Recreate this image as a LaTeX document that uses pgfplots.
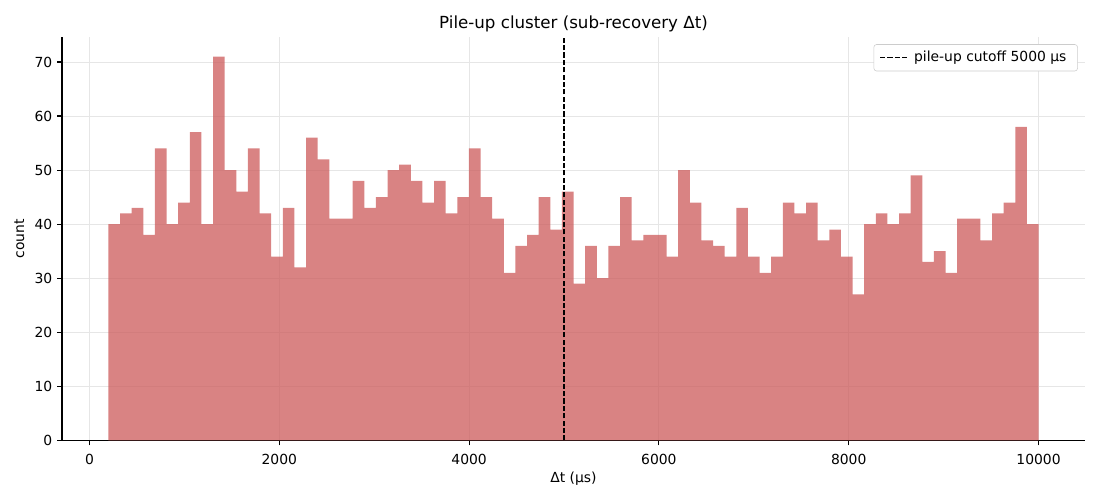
\documentclass[border=0pt]{standalone}
\usepackage{fontspec}
\setmainfont{DejaVu Sans}
\usepackage{pgfplots}
\usepackage{pgfplotstable}
\pgfplotsset{compat=1.18}
\definecolor{barcol}{RGB}{205,92,92}
\definecolor{gridcol}{RGB}{230,230,230}
\definecolor{legcol}{RGB}{204,204,204}
\pgfplotstableread{
x y
200 40
322.5 42
445 43
567.5 38
690 54
812.5 40
935 44
1057.5 57
1180 40
1302.5 71
1425 50
1547.5 46
1670 54
1792.5 42
1915 34
2037.5 43
2160 32
2282.5 56
2405 52
2527.5 41
2650 41
2772.5 48
2895 43
3017.5 45
3140 50
3262.5 51
3385 48
3507.5 44
3630 48
3752.5 42
3875 45
3997.5 54
4120 45
4242.5 41
4365 31
4487.5 36
4610 38
4732.5 45
4855 39
4977.5 46
5100 29
5222.5 36
5345 30
5467.5 36
5590 45
5712.5 37
5835 38
5957.5 38
6080 34
6202.5 50
6325 44
6447.5 37
6570 36
6692.5 34
6815 43
6937.5 34
7060 31
7182.5 34
7305 44
7427.5 42
7550 44
7672.5 37
7795 39
7917.5 34
8040 27
8162.5 40
8285 42
8407.5 40
8530 42
8652.5 49
8775 33
8897.5 35
9020 31
9142.5 41
9265 41
9387.5 37
9510 42
9632.5 44
9755 58
9877.5 40
10000 40
}\histdata
\begin{document}
\fontsize{10}{12}\selectfont
\begin{tikzpicture}
\begin{axis}[
  name=ax,
  scale only axis,
  width=736.6pt, height=290.2pt,
  xmin=-290, xmax=10490,
  ymin=0, ymax=74.55,
  axis x line*=bottom, axis y line*=left,
  axis line style={-, line width=0.8pt},
  tick align=outside,
  major tick length=3.5pt,
  every tick/.style={black, line width=0.8pt},
  xtick={0,2000,4000,6000,8000,10000},
  ytick={0,10,20,30,40,50,60,70},
  scaled x ticks=false,
  xticklabel style={/pgf/number format/fixed, /pgf/number format/precision=0, yshift=-3pt},
  /pgf/number format/1000 sep={},
  /pgf/number format/assume math mode=true,
  tick label style={font=\fontsize{10}{12}\selectfont},
  grid=major,
  major grid style={gridcol, line width=0.6pt},
  title={Pile-up cluster (sub-recovery Δt)},
  title style={font=\fontsize{12}{14}\selectfont, at={(axis description cs:0.5,1.001)}, anchor=base},
  xlabel={Δt (μs)},
  xlabel style={font=\fontsize{10}{12}\selectfont, at={(axis description cs:0.5,-0.104)}, anchor=base},
  ylabel={count},
  ylabel style={font=\fontsize{10}{12}\selectfont, at={(axis description cs:-0.0371,0.5)}, anchor=base},
  legend style={at={(axis description cs:0.993,0.983)}, anchor=north east, draw=legcol, rounded corners=2pt, fill=white, font=\fontsize{10}{12}\selectfont, inner xsep=4pt, inner ysep=3pt, row sep=0pt,
    nodes={inner xsep=4pt}},
  legend image code/.code={\draw[#1] (0pt,0pt) -- (20pt,0pt);},
  legend cell align=left,
]
\addplot[ybar interval, fill=barcol, fill opacity=0.76, draw=none, forget plot] table[x=x, y=y] {\histdata};
\addplot[black, line width=1pt, dash pattern=on 3.7pt off 1.6pt] coordinates {(5000,0) (5000,74.55)};
\addlegendentry{pile-up cutoff 5000 μs}
\end{axis}
\useasboundingbox ([xshift=-44.64pt,yshift=-42.5pt]ax.south west) rectangle ([xshift=10.8pt,yshift=26.9pt]ax.north east);
\end{tikzpicture}
\end{document}
